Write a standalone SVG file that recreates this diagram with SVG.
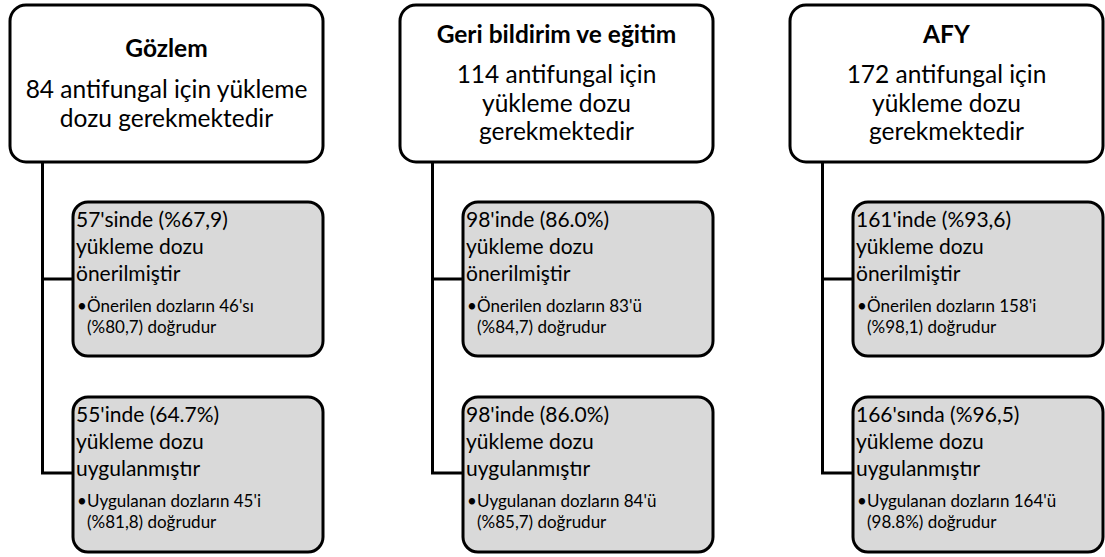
<svg xmlns="http://www.w3.org/2000/svg" width="1105" height="557" viewBox="0 0 1105 557">
<style>
.top{fill:#fff;stroke:#000;stroke-width:3}
.sub{fill:#d9d9d9;stroke:#000;stroke-width:3}
.conn{fill:none;stroke:#000;stroke-width:3}
text{font-family:Lato,"Liberation Sans",sans-serif;fill:#000}
.h{font-size:24.5px;font-weight:bold;text-anchor:middle}
.b{font-size:24.5px;text-anchor:middle}
.m{font-size:21px}
.s{font-size:17px}
</style>
<rect width="1105" height="557" fill="#fff"/>
<g id="connectors">
<path class="conn" d="M42.5 162V473H73M42.5 279H73"/>
<path class="conn" d="M432.5 162V473H463M432.5 279H463"/>
<path class="conn" d="M822.5 162V473H853M822.5 279H853"/>
</g>
<g id="gozlem">
<rect class="top" x="10" y="5" width="313" height="157" rx="16"/>
<text class="h" x="166.5" y="57">Gözlem</text>
<text class="b" x="166.5" y="98">84 antifungal için yükleme</text>
<text class="b" x="166.5" y="127">dozu gerekmektedir</text>
</g>
<g id="gozlem-onerilen">
<rect class="sub" x="73" y="202" width="250" height="154" rx="15"/>
<text class="m" x="76" y="227">57'sinde (%67,9)</text>
<text class="m" x="76" y="254">yükleme dozu</text>
<text class="m" x="76" y="281">önerilmiştir</text>
<text class="s" x="77" y="312">•</text>
<text class="s" x="87" y="312">Önerilen dozların 46'sı</text>
<text class="s" x="87" y="333">(%80,7) doğrudur</text>
</g>
<g id="gozlem-uygulanan">
<rect class="sub" x="73" y="397" width="250" height="155" rx="15"/>
<text class="m" x="76" y="422">55'inde (64.7%)</text>
<text class="m" x="76" y="449">yükleme dozu</text>
<text class="m" x="76" y="476">uygulanmıştır</text>
<text class="s" x="77" y="507">•</text>
<text class="s" x="87" y="507">Uygulanan dozların 45'i</text>
<text class="s" x="87" y="528">(%81,8) doğrudur</text>
</g>
<g id="geri-bildirim">
<rect class="top" x="400" y="5" width="313" height="157" rx="16"/>
<text class="h" x="556.5" y="43">Geri bildirim ve eğitim</text>
<text class="b" x="556.5" y="83">114 antifungal için</text>
<text class="b" x="556.5" y="112">yükleme dozu</text>
<text class="b" x="556.5" y="140">gerekmektedir</text>
</g>
<g id="geri-onerilen">
<rect class="sub" x="463" y="202" width="250" height="154" rx="15"/>
<text class="m" x="466" y="227">98'inde (86.0%)</text>
<text class="m" x="466" y="254">yükleme dozu</text>
<text class="m" x="466" y="281">önerilmiştir</text>
<text class="s" x="467" y="312">•</text>
<text class="s" x="477" y="312">Önerilen dozların 83'ü</text>
<text class="s" x="477" y="333">(%84,7) doğrudur</text>
</g>
<g id="geri-uygulanan">
<rect class="sub" x="463" y="397" width="250" height="155" rx="15"/>
<text class="m" x="466" y="422">98'inde (86.0%)</text>
<text class="m" x="466" y="449">yükleme dozu</text>
<text class="m" x="466" y="476">uygulanmıştır</text>
<text class="s" x="467" y="507">•</text>
<text class="s" x="477" y="507">Uygulanan dozların 84'ü</text>
<text class="s" x="477" y="528">(%85,7) doğrudur</text>
</g>
<g id="afy">
<rect class="top" x="790" y="5" width="313" height="157" rx="16"/>
<text class="h" x="946.5" y="43">AFY</text>
<text class="b" x="946.5" y="83">172 antifungal için</text>
<text class="b" x="946.5" y="112">yükleme dozu</text>
<text class="b" x="946.5" y="140">gerekmektedir</text>
</g>
<g id="afy-onerilen">
<rect class="sub" x="853" y="202" width="250" height="154" rx="15"/>
<text class="m" x="856" y="227">161'inde (%93,6)</text>
<text class="m" x="856" y="254">yükleme dozu</text>
<text class="m" x="856" y="281">önerilmiştir</text>
<text class="s" x="857" y="312">•</text>
<text class="s" x="867" y="312">Önerilen dozların 158'i</text>
<text class="s" x="867" y="333">(%98,1) doğrudur</text>
</g>
<g id="afy-uygulanan">
<rect class="sub" x="853" y="397" width="250" height="155" rx="15"/>
<text class="m" x="856" y="422">166'sında (%96,5)</text>
<text class="m" x="856" y="449">yükleme dozu</text>
<text class="m" x="856" y="476">uygulanmıştır</text>
<text class="s" x="857" y="507">•</text>
<text class="s" x="867" y="507">Uygulanan dozların 164'ü</text>
<text class="s" x="867" y="528">(98.8%) doğrudur</text>
</g>
</svg>
